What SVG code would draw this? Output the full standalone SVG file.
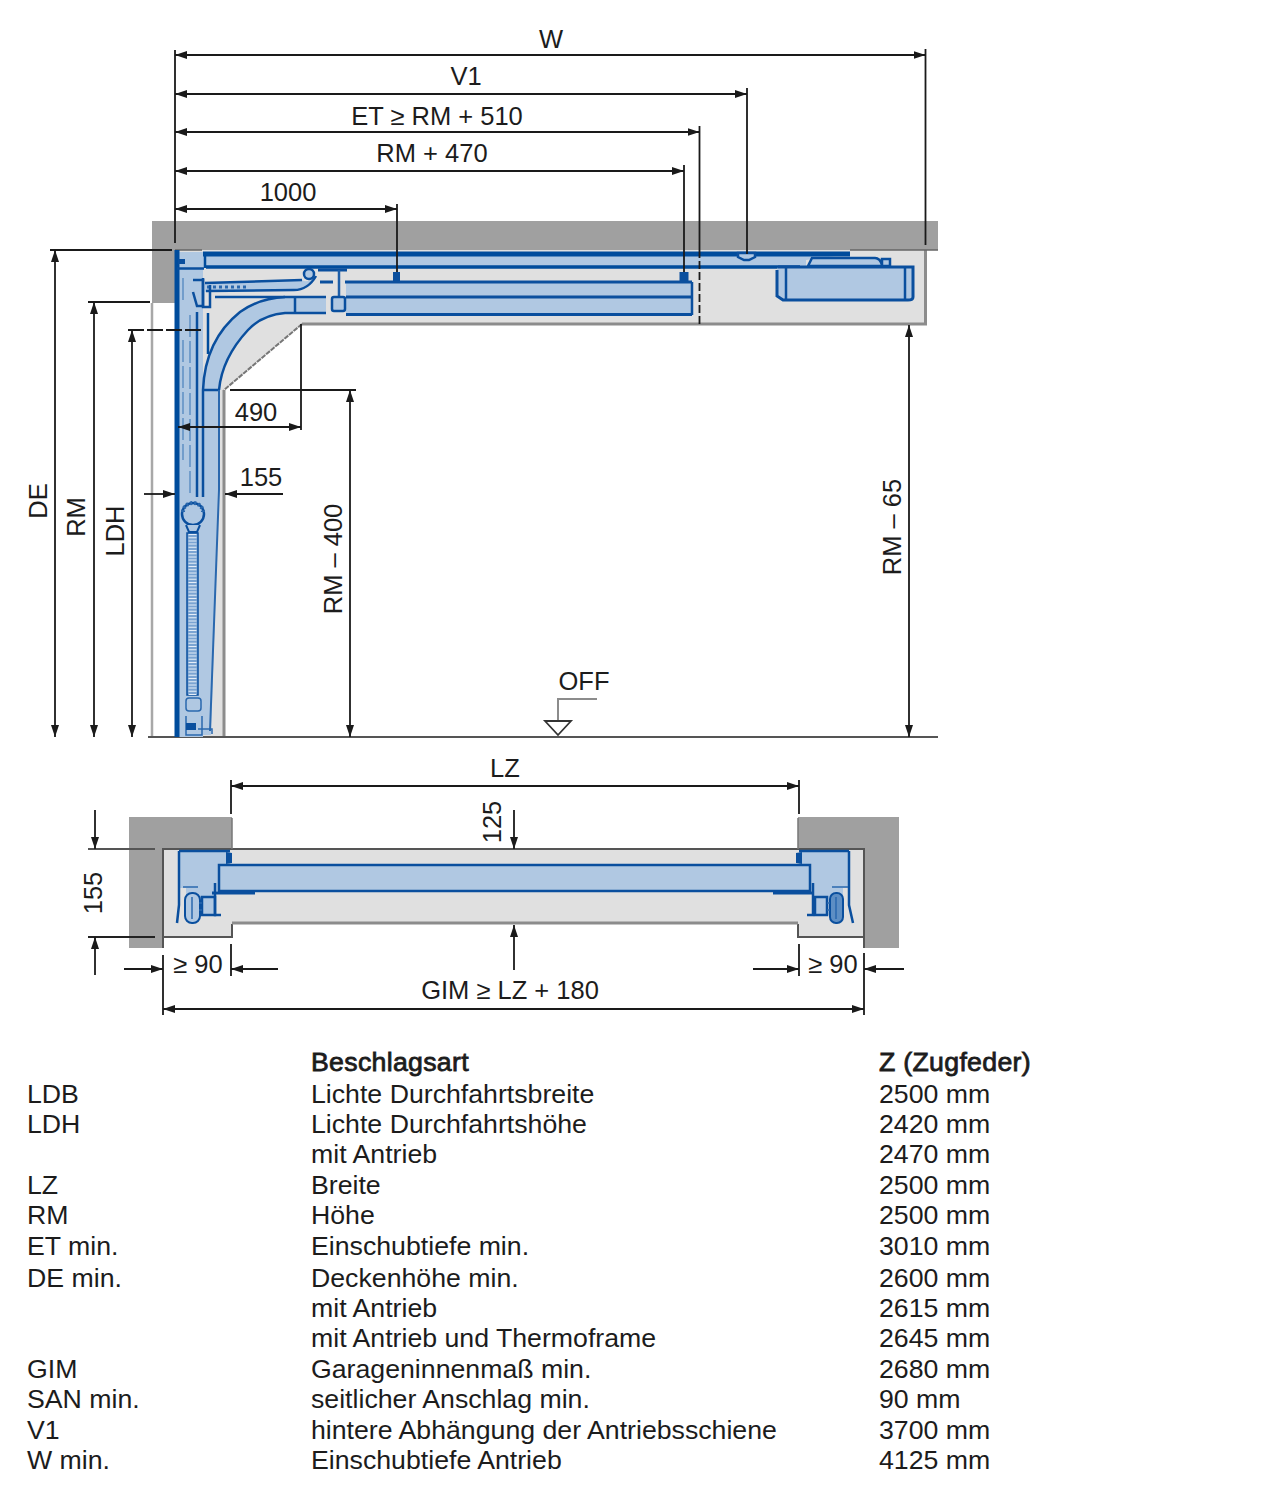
<svg xmlns="http://www.w3.org/2000/svg" width="1275" height="1495" viewBox="0 0 1275 1495">
<defs>
<marker id="a" viewBox="0 0 12 8" refX="12" refY="4" markerWidth="12" markerHeight="8" orient="auto-start-reverse" markerUnits="userSpaceOnUse"><path d="M0 0L12 4L0 8Z" fill="#1a1a1a"/></marker>
</defs>
<style>
text{font-family:"Liberation Sans",Arial,sans-serif;fill:#1c1c1c}
.t{font-size:26.7px}
.d{font-size:25.5px}
.b{stroke:#1c1c1c;stroke-width:.8px;letter-spacing:.3px}
.w{fill:#a0a0a0}
.g{fill:#e0e0e0}
.gl{fill:none;stroke:#8c8c8c;stroke-width:3}
.l{fill:#b0c8e2}
.s{fill:none;stroke:#0a4f9e;stroke-width:2.500}
.s1{fill:none;stroke:#2a68ae;stroke-width:1.500}
.ls{fill:#b0c8e2;stroke:#0a4f9e;stroke-width:2.500}
.dim{fill:none;stroke:#1a1a1a;stroke-width:1.800}
.ar{fill:none;stroke:#1a1a1a;stroke-width:1.800;marker-end:url(#a)}
.ab{fill:none;stroke:#1a1a1a;stroke-width:1.800;marker-start:url(#a);marker-end:url(#a)}
</style>

<g id="section-building">
<path class="w" d="M152 221H938V250H175V303H152Z"/>
<path class="g" d="M175 250H925V324H302L224 390V737H175Z"/>
<path class="gl" d="M925.500 250V324H302"/>
<path d="M302 324L224 390" fill="none" stroke="#777" stroke-width="2" stroke-dasharray="5 1"/>
<path class="gl" d="M224 390V737"/>
<path d="M152 303V737" fill="none" stroke="#a8a8a8" stroke-width="2.500"/>
<path d="M148 737H938" fill="none" stroke="#555" stroke-width="2"/>
<path d="M175 250H202M850 250H938" fill="none" stroke="#666" stroke-width="1.500"/>
</g>

<g id="section-door">
<path class="l" d="M175 252H203V737H175Z"/>
<path class="l" d="M203 390Q205 340 240 312Q260 298 285 297H326V313H285Q262 315 248 330Q222 358 219 390V490L211 735H203Z"/>
<path class="l" d="M346 282H692V315H346Z"/>
<path class="l" d="M203 254H850L806 260V267H203Z"/>
<path d="M177 250V737" fill="none" stroke="#004c9c" stroke-width="5"/>
<path d="M203 254H850" fill="none" stroke="#004c9c" stroke-width="5"/>
<path d="M206 267H800" fill="none" stroke="#004c9c" stroke-width="3.500"/>
<path d="M205 253V268M208 313V354" fill="none" stroke="#004c9c" stroke-width="2.500"/>
<rect x="178" y="259" width="7" height="5" fill="#0a4f9e"/>
<path class="s" d="M177 268.500H204"/>
<path class="s" d="M203 390Q205 340 240 312Q260 298 285 297H326"/>
<path class="s" d="M219 390Q222 358 248 330Q262 315 285 313H326"/>
<path class="s" d="M203 390H219M203 390V497M295 297V313M197 312V497"/>
<path d="M219 390V490L210 731" fill="none" stroke="#2a68ae" stroke-width="2"/>
<path d="M215 297H285" fill="none" stroke="#0a4f9e" stroke-width="2.500"/>
<path class="l" d="M205 283L302 280Q308 284 314 276L316 278Q308 290 296 290L205 292Z"/>
<path class="s" d="M205 283L302 280M206 291L294 290Q308 290 316 276"/>
<circle class="ls" cx="309" cy="274" r="5"/>
<path d="M207 287H248" fill="none" stroke="#2a68ae" stroke-width="3" stroke-dasharray="3 3"/>
<path class="s" d="M193 280H203V306H197L193 292"/>
<path class="s" d="M203 278V307H210V285"/>
<path d="M183 278V300M183 340V460M190 315V497" fill="none" stroke="#5d8ec4" stroke-width="1.500" stroke-dasharray="22 4"/>
<path d="M318 270H347M320 282H333M345 282H692" fill="none" stroke="#0a4f9e" stroke-width="3"/>
<path d="M339 270V297" fill="none" stroke="#1d5ea8" stroke-width="2.500"/>
<path d="M346 297H692M346 314.500H692" fill="none" stroke="#0a4f9e" stroke-width="3"/>
<path class="s" d="M692 282V315"/>
<rect class="ls" x="332" y="297" width="13" height="14" rx="2"/>
<path class="ls" d="M738 253v4l6 3h5l6-3v-4Z" stroke-width="1.500"/>
<rect x="393" y="272" width="7" height="9" fill="#0a4f9e"/>
<rect x="679.500" y="272" width="9" height="9" fill="#0a4f9e"/>
<path d="M778 267H913V297Q913 300 908 300H783L777 296V270" fill="#b0c8e2" stroke="#0a4f9e" stroke-width="3"/>
<path class="s" d="M786 267V300M905 267V300"/>
<path class="ls" d="M808 266L812 258H875Q880 258 882 265V259H890V266Z" stroke-width="2"/>
<circle cx="193" cy="514" r="11" fill="#b0c8e2" stroke="#0a4f9e" stroke-width="2.500"/>
<path d="M186 525L189 532H197L200 525" fill="#b0c8e2" stroke="#0a4f9e" stroke-width="2"/>
<path d="M183 512a10 9 0 0 1 20 0" fill="none" stroke="#2a68ae" stroke-width="4" stroke-dasharray="2 2"/>
<rect x="187" y="533" width="11" height="162" fill="#7ba4d2" stroke="#0a4f9e" stroke-width="1.500"/>
<path d="M192.500 534V695" stroke="#e6eef8" stroke-width="8" stroke-dasharray="1 2.200" fill="none"/>
<rect x="186" y="698" width="15" height="13" rx="3" fill="#b0c8e2" stroke="#2a68ae" stroke-width="1.500"/>
<path d="M186 716V735H202V716" fill="none" stroke="#2a68ae" stroke-width="1.500"/>
<path d="M186 723h10v7h-10Z" fill="#0a4f9e"/>
<path class="s1" d="M198 729H212V734"/>
</g>

<g id="section-dimensions">
<path class="ab" d="M175 55H925.500"/>
<path class="ab" d="M175 94H747"/>
<path class="ab" d="M175 132H699.500"/>
<path class="ab" d="M175 171H684"/>
<path class="ab" d="M175 209H397"/>
<path class="dim" d="M175 50V243M925.500 49V245M747 88V254M699.500 126V250M684 165V272M397 204V272"/>
<path d="M699.500 250V324" fill="none" stroke="#1a1a1a" stroke-width="1.800" stroke-dasharray="8 3"/>
<path class="dim" d="M50 250H172M88 302H150"/>
<path d="M128 330H203" fill="none" stroke="#1a1a1a" stroke-width="1.800" stroke-dasharray="16 3"/>
<path class="ab" d="M55 250V737"/>
<path class="ab" d="M94 302V737"/>
<path class="ab" d="M132 330V737"/>
<path class="ab" d="M178 427H301"/>
<path class="dim" d="M301 324V430M230 390H356"/>
<path class="ab" d="M350 390V737"/>
<path class="ar" d="M144 494H175"/>
<path class="ar" d="M283 494H225"/>
<path class="ab" d="M909 325V737"/>
<path d="M597 699H558V721" fill="none" stroke="#8c8c8c" stroke-width="2"/>
<path d="M545 721H571L558 735Z" fill="#fff" stroke="#333" stroke-width="1.800"/>
</g>

<g id="plan-building">
<path class="g" d="M163 849H864V937H798V924H232V937H163Z"/>
<path class="w" d="M129 817H232V849H163V948H129Z"/>
<path class="w" d="M798 817H899V948H864V849H798Z"/>
<path d="M88 849H155M163 948V849H864V948M864 937H798V924M232 924V937H163" fill="none" stroke="#555" stroke-width="2"/>
<path d="M232 818V849M798 818V849" fill="none" stroke="#777" stroke-width="1.500"/>
<path d="M232 923H798" fill="none" stroke="#8c8c8c" stroke-width="3"/>
<path d="M88 937H155" fill="none" stroke="#222" stroke-width="1.800"/>
</g>

<g id="plan-door">
<path class="l" d="M179 851H230V865H219V891H215V915H186V888H179Z"/>
<path class="l" d="M849 851H799V865H810V891H813V915H843V888H849Z"/>
<path class="ls" d="M219 865H810V891H219Z" stroke-width="2.500"/>
<path d="M212 893H255M773 893H813" stroke="#0a4f9e" stroke-width="3" fill="none"/>
<path d="M179 851H230M179 851V905L177 923M849 851H799M849 851V905L853 923" class="s"/>
<path d="M226 864V852l6 1v10ZM802 864V852l-6 1v10Z" fill="#0a4f9e"/>
<path class="s1" d="M183 887H198M832 887H848"/>
<rect x="185" y="893" width="15" height="30" rx="7" fill="#b0c8e2" stroke="#0a4f9e" stroke-width="2"/>
<rect x="830" y="893" width="13" height="30" rx="6" fill="#5d8ec4" stroke="#0a4f9e" stroke-width="2"/>
<path class="s1" d="M192 897V919M836 897V919"/>
<rect class="ls" x="202" y="897" width="13" height="18" stroke-width="2"/>
<rect class="ls" x="815" y="897" width="12" height="18" stroke-width="2"/>
<path class="s" d="M215 883V915H221M813 883V915H807"/>
<path class="s1" d="M199 903h3M199 910h3M827 903h3M827 910h3"/>
</g>

<g id="plan-dimensions">
<path class="ab" d="M231 786H799"/>
<path class="dim" d="M231 780V814M799 780V814"/>
<path class="ar" d="M514 810V849"/>
<path class="ar" d="M514 970V925"/>
<path class="ar" d="M95 810V849"/>
<path class="ar" d="M95 975V937"/>
<path class="ar" d="M124 969H163"/>
<path class="ar" d="M278 969H231"/>
<path class="ar" d="M753 969H799"/>
<path class="ar" d="M904 969H864"/>
<path class="dim" d="M231 944V976M799 944V976"/>
<path class="dim" d="M163 955V1015M864 953V1015"/>
<path class="ab" d="M163 1009H864"/>
</g>

<g id="labels">
<text class="d" x="551" y="48" text-anchor="middle">W</text>
<text class="d" x="466" y="85" text-anchor="middle">V1</text>
<text class="d" x="437" y="125" text-anchor="middle">ET ≥ RM + 510</text>
<text class="d" x="432" y="162" text-anchor="middle">RM + 470</text>
<text class="d" x="288" y="201" text-anchor="middle">1000</text>
<text class="d" x="256" y="421" text-anchor="middle">490</text>
<text class="d" x="261" y="486" text-anchor="middle">155</text>
<text class="d" x="584" y="690" text-anchor="middle">OFF</text>
<text class="d" x="505" y="777" text-anchor="middle">LZ</text>
<text class="d" x="198" y="973" text-anchor="middle">≥ 90</text>
<text class="d" x="833" y="973" text-anchor="middle">≥ 90</text>
<text class="d" x="510" y="999" text-anchor="middle">GIM ≥ LZ + 180</text>
<text class="d" transform="translate(47 501) rotate(-90)" text-anchor="middle">DE</text>
<text class="d" transform="translate(85 517) rotate(-90)" text-anchor="middle">RM</text>
<text class="d" transform="translate(124 531) rotate(-90)" text-anchor="middle">LDH</text>
<text class="d" transform="translate(342 559) rotate(-90)" text-anchor="middle">RM – 400</text>
<text class="d" transform="translate(901 527) rotate(-90)" text-anchor="middle">RM – 65</text>
<text class="d" transform="translate(501 822) rotate(-90)" text-anchor="middle">125</text>
<text class="d" transform="translate(102 893) rotate(-90)" text-anchor="middle">155</text>
</g>

<g id="table">
<text class="t b" x="311" y="1071">Beschlagsart</text><text class="t b" x="879" y="1071">Z (Zugfeder)</text>
<text class="t" x="27" y="1103">LDB</text><text class="t" x="311" y="1103">Lichte Durchfahrtsbreite</text><text class="t" x="879" y="1103">2500 mm</text>
<text class="t" x="27" y="1133">LDH</text><text class="t" x="311" y="1133">Lichte Durchfahrtshöhe</text><text class="t" x="879" y="1133">2420 mm</text>
<text class="t" x="311" y="1163">mit Antrieb</text><text class="t" x="879" y="1163">2470 mm</text>
<text class="t" x="27" y="1194">LZ</text><text class="t" x="311" y="1194">Breite</text><text class="t" x="879" y="1194">2500 mm</text>
<text class="t" x="27" y="1224">RM</text><text class="t" x="311" y="1224">Höhe</text><text class="t" x="879" y="1224">2500 mm</text>
<text class="t" x="27" y="1255">ET min.</text><text class="t" x="311" y="1255">Einschubtiefe min.</text><text class="t" x="879" y="1255">3010 mm</text>
<text class="t" x="27" y="1287">DE min.</text><text class="t" x="311" y="1287">Deckenhöhe min.</text><text class="t" x="879" y="1287">2600 mm</text>
<text class="t" x="311" y="1317">mit Antrieb</text><text class="t" x="879" y="1317">2615 mm</text>
<text class="t" x="311" y="1347">mit Antrieb und Thermoframe</text><text class="t" x="879" y="1347">2645 mm</text>
<text class="t" x="27" y="1378">GIM</text><text class="t" x="311" y="1378">Garageninnenmaß min.</text><text class="t" x="879" y="1378">2680 mm</text>
<text class="t" x="27" y="1408">SAN min.</text><text class="t" x="311" y="1408">seitlicher Anschlag min.</text><text class="t" x="879" y="1408">90 mm</text>
<text class="t" x="27" y="1439">V1</text><text class="t" x="311" y="1439">hintere Abhängung der Antriebsschiene</text><text class="t" x="879" y="1439">3700 mm</text>
<text class="t" x="27" y="1469">W min.</text><text class="t" x="311" y="1469">Einschubtiefe Antrieb</text><text class="t" x="879" y="1469">4125 mm</text>
</g>
</svg>
